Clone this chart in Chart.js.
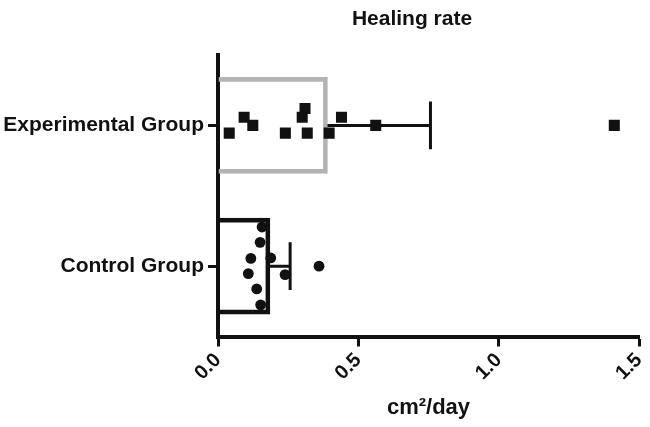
<!DOCTYPE html>
<html>
<head>
<meta charset="utf-8">
<script src="https://cdn.jsdelivr.net/npm/chart.js@4.4.1/dist/chart.umd.min.js"></script>
<style>
  html, body { margin: 0; padding: 0; background: #fff; }
  #wrap { width: 650px; height: 427px; }
</style>
</head>
<body>
<div id="wrap"><canvas id="chart" width="650" height="427"></canvas></div>
<script>
// groups, top to bottom
const groups = ["Experimental Group", "Control Group"];
const groupMeans = [0.39, 0.185];
const groupErrors = [0.367, 0.072];
const xTicks = [0, 0.5, 1.0, 1.5];

// single wounds: rate and vertical spread inside the row (row units)
const expRates = [0.04, 0.093, 0.124, 0.24, 0.30, 0.31, 0.318, 0.396, 0.44, 0.562, 1.412];
const expRows = [0.055, -0.058, 0, 0.055, -0.058, -0.12, 0.055, 0.055, -0.058, 0, 0];
const ctlRates = [0.157, 0.15, 0.117, 0.188, 0.108, 0.239, 0.138, 0.152, 0.36];
const ctlRows = [0.722, 0.831, 0.945, 0.942, 1.053, 1.06, 1.162, 1.275, 1.0];

const FONT = '"Liberation Sans", Arial, Helvetica, sans-serif';
const INK = "#111";
const CAP = 0.17;

// whisker from mean to mean+error, then the cap
function whisker(i) {
  const end = groupMeans[i] + groupErrors[i];
  return {
    type: "scatter",
    xAxisID: "x",
    yAxisID: "yj",
    showLine: true,
    data: [
      { x: groupMeans[i], y: i },
      { x: end, y: i },
      { x: end, y: i - CAP },
      { x: end, y: i + CAP },
    ],
    borderColor: INK,
    borderWidth: 3,
    pointRadius: 0,
    order: 2,
  };
}

// title sits over the plot, a bit left of its centre
const plotTitle = {
  id: "plotTitle",
  afterDraw(chart) {
    const ctx = chart.ctx;
    ctx.save();
    ctx.font = "bold 21px " + FONT;
    ctx.fillStyle = INK;
    ctx.textAlign = "center";
    ctx.fillText("Healing rate", 412, 25);
    ctx.restore();
  },
};

new Chart(document.getElementById("chart"), {
  type: "bar",
  data: {
    labels: groups,
    datasets: [
      {
        type: "bar",
        indexAxis: "y",
        xAxisID: "x",
        yAxisID: "y",
        data: groupMeans,
        backgroundColor: "rgba(255,255,255,0)",
        borderColor: ["#b3b3b3", INK],
        borderWidth: 4,
        barThickness: 96,
        grouped: false,
        order: 3,
      },
      whisker(0),
      whisker(1),
      {
        type: "scatter",
        xAxisID: "x",
        yAxisID: "yj",
        data: expRates.map((v, i) => ({ x: v, y: expRows[i] })),
        pointStyle: "rect",
        pointRadius: 7.8,
        backgroundColor: INK,
        borderWidth: 0,
        order: 1,
      },
      {
        type: "scatter",
        xAxisID: "x",
        yAxisID: "yj",
        data: ctlRates.map((v, i) => ({ x: v, y: ctlRows[i] })),
        pointStyle: "circle",
        pointRadius: 5.4,
        backgroundColor: INK,
        borderWidth: 0,
        order: 1,
      },
    ],
  },
  options: {
    responsive: false,
    animation: false,
    indexAxis: "y",
    layout: { padding: { top: 55, right: 11, bottom: 0, left: 0 } },
    plugins: {
      legend: { display: false },
      tooltip: { enabled: false },
      title: { display: false },
    },
    scales: {
      x: {
        type: "linear",
        position: "bottom",
        min: 0,
        max: 1.5,
        offset: false,
        afterBuildTicks: (s) => { s.ticks = xTicks.map((v) => ({ value: v })); },
        afterFit: (s) => {
          s.height = 90.5;
          s.paddingLeft = 0;
          s.paddingRight = 0;
        },
        ticks: {
          minRotation: 45,
          maxRotation: 45,
          padding: 2,
          color: INK,
          font: { family: FONT, size: 20, weight: "bold" },
          callback: (v) => Number(v).toFixed(1),
        },
        grid: {
          display: true,
          drawOnChartArea: false,
          drawTicks: true,
          tickLength: 10,
          tickWidth: 3,
          tickColor: INK,
          offset: false,
        },
        border: { display: true, color: INK, width: 4 },
        title: {
          display: true,
          text: "cm²/day",
          color: INK,
          font: { family: FONT, size: 22, weight: "bold" },
          padding: { top: 4, bottom: 6 },
        },
      },
      y: {
        type: "category",
        position: "left",
        offset: true,
        afterFit: (s) => { s.width = 218; },
        ticks: {
          padding: 4,
          color: INK,
          font: { family: FONT, size: 21, weight: "bold" },
        },
        grid: {
          display: true,
          drawOnChartArea: false,
          drawTicks: true,
          tickLength: 10,
          tickWidth: 3,
          tickColor: INK,
          offset: false,
        },
        border: { display: true, color: INK, width: 4 },
      },
      yj: {
        type: "linear",
        axis: "y",
        position: "left",
        display: false,
        offset: false,
        min: -0.5,
        max: 1.5,
        reverse: true,
        grid: { offset: false },
      },
    },
  },
  plugins: [plotTitle],
});
</script>
</body>
</html>
